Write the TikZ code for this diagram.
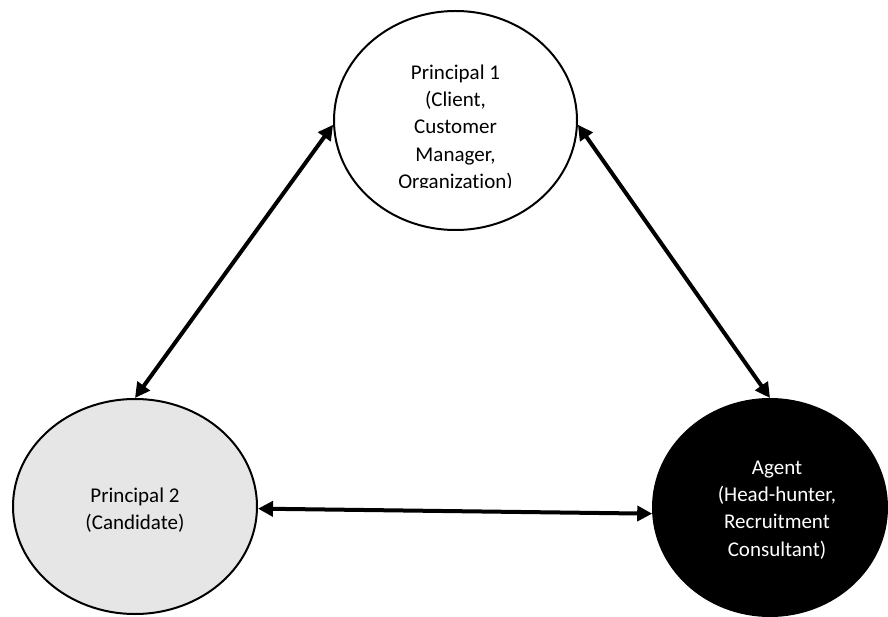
\documentclass[tikz,border=0pt]{standalone}
\usepackage{fontspec}
\setmainfont{Carlito}[Ligatures={NoCommon}]
\usetikzlibrary{shapes.geometric,arrows.meta}
\definecolor{lightfill}{RGB}{230,230,230}
\tikzset{
  oval/.style={ellipse, draw=black, line width=2pt, inner sep=0pt},
  lbl/.style={align=center, inner sep=0pt, font=\fontsize{21}{27.3}\selectfont},
  link/.style={line width=4pt, {Triangle[length=15pt,width=15pt]}-{Triangle[length=15pt,width=15pt]}, shorten <=0pt, shorten >=0pt}
}
\begin{document}
\begin{tikzpicture}[x=1pt,y=-1pt]
\useasboundingbox (0,0) rectangle (888,617);
\node[oval, fill=white, minimum width=243pt, minimum height=219pt] (p1) at (455.5,120.5) {};
\node[oval, fill=lightfill, minimum width=244pt, minimum height=215pt] (p2) at (135,506.5) {};
\node[oval, fill=black, minimum width=234pt, minimum height=217pt] (ag) at (770,507.5) {};
\begin{scope}
\clip (333,10) rectangle (578,187.5);
\node[lbl] (t1) at (455.5,128.5) {Principal 1\\(Client,\\Customer\\Manager,\\Organization)};
\end{scope}
\node[lbl] (t2) at (135,510) {Principal 2\\(Candidate)};
\node[lbl, text=white] (t3) at (777,510) {Agent\\(Head-hunter,\\Recruitment\\Consultant)};
\draw[link] (p1.182) -- (p2.north);
\draw[link] (p1.358) -- (ag.north);
\draw[link] (p2.-1) -- (ag.183);
\end{tikzpicture}
\end{document}
